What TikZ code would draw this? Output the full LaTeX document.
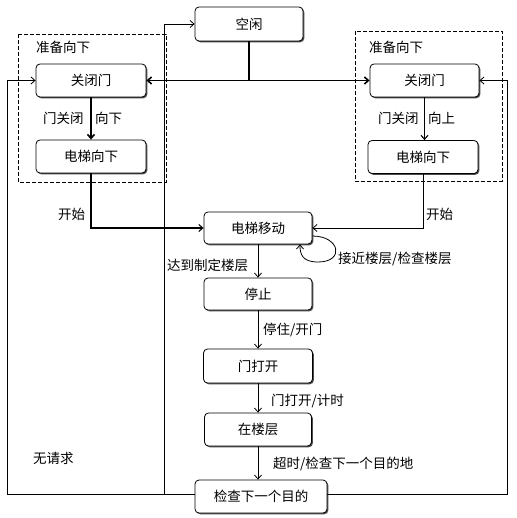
\documentclass[tikz,border=0pt]{standalone}
\usepackage{fontspec}
\setmainfont{Noto Sans CJK SC}
\usetikzlibrary{arrows.meta,shadows,calc}
\begin{document}
\begin{tikzpicture}[x=1pt,y=-1pt,
  stt/.style={draw, rounded corners=4pt, line width=0.8pt, fill=white,
    minimum height=33pt, minimum width=110pt, inner sep=0pt,
    font=\fontsize{13.5}{15}\selectfont,
    drop shadow={shadow xshift=1.3pt, shadow yshift=-1.3pt, fill=black!70, opacity=1}},
  lbl/.style={font=\fontsize{13.5}{15}\selectfont, inner sep=0pt, anchor=west},
  heavy/.style={line width=1.6pt},
  medium/.style={line width=1.1pt},
  light/.style={line width=0.8pt},
  arr/.style={-{Straight Barb[length=4pt,width=7pt]}},
  grp/.style={draw, dash pattern=on 4pt off 2pt, line width=0.8pt}]
\useasboundingbox (0,0) rectangle (516,518);
\fill[white] (0,0) rectangle (516,518);

% group frames
\draw[grp] (18,34) rectangle (166,182);
\draw[grp] (355,31) rectangle (502,181);

% states
\node[stt, minimum width=108pt, minimum height=34pt] (idle) at (249,24) {空闲};
\node[stt] (LC) at (91,80.5) {关闭门};
\node[stt] (LD) at (91,156.5) {电梯向下};
\node[stt, minimum width=109pt] (RC) at (424.5,80.5) {关闭门};
\node[stt] (RD) at (423,157) {电梯向下};
\node[stt, minimum width=108pt, minimum height=32pt] (move) at (258,228) {电梯移动};
\node[stt, minimum width=108pt, minimum height=32pt] (stop) at (258,294) {停止};
\node[stt, minimum width=109pt, minimum height=34pt] (open) at (258,366) {门打开};
\node[stt, minimum width=107pt] (floor) at (258,429.5) {在楼层};
\node[stt, minimum width=132pt] (check) at (261,496.5) {检查下一个目的};

% connectors
\coordinate (j) at (249,80.5);
\draw[heavy] (idle.south) -- (j);
\draw[heavy,arr] (j) -- (LC.east);
\draw[heavy,arr] (j) -- (RC.west);

\draw[heavy,arr] (LC.south) -- (LD.north);
\draw[medium,arr] (RC.south) -- (RC.south |- RD.north);

\draw[medium,arr] (LD.south) |- (move.west);
\draw[light,arr] (RD.south) |- (move.east);

\draw[light,arr] ($(move.east)+(0,8)$) .. controls (340,236) and (345,262) .. (318,262)
  .. controls (302,262) and (300,254) .. ($(move.south)+(42,0)$);

\draw[light,arr] (move.south) -- (stop.north);
\draw[light,arr] (stop.south) -- (open.north);
\draw[light,arr] (open.south) -- (floor.north);
\draw[light,arr] (floor.south) -- (floor.south |- check.north);

\coordinate (xl) at (7,80.5);
\coordinate (xr) at (507,80.5);
\coordinate (xm) at (164,24);
\draw[light,arr] ([yshift=2.5pt]check.west) -| (xl) -- (LC.west);
\draw[light,arr] ([yshift=2.5pt]check.east) -| (xr) -- (RC.east);
\draw[light,arr] ([yshift=2.5pt]check.west) -| (xm) -- (idle.west);

% labels
\node[lbl] (lprep) at (36,47) {准备向下};
\node[lbl] (rprep) at (369,47) {准备向下};
\node[lbl] (lcl) at (43,118) {门关闭\hspace{11.5pt}向下};
\node[lbl] (rcl) at (378,118) {门关闭\hspace{9.5pt}向上};
\node[lbl] (ls) at (58,214) {开始};
\node[lbl] (rs) at (426,214) {开始};
\node[lbl] (arr1) at (167,265) {达到制定楼层};
\node[lbl] (near) at (338,259) {接近楼层/检查楼层};
\node[lbl] (stp) at (263,330) {停住/开门};
\node[lbl] (opn) at (271,401) {门打开/计时};
\node[lbl] (tmo) at (273,464) {超时/检查下一个目的地};
\node[lbl] (noreq) at (33,458) {无请求};
\end{tikzpicture}
\end{document}
